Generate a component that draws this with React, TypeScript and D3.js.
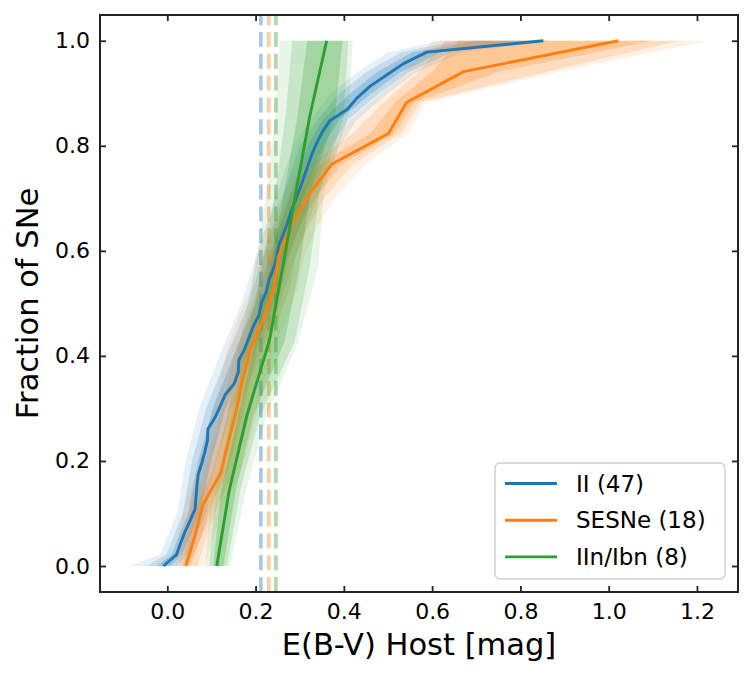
import { useEffect, useRef } from "react"
import * as d3 from "d3"

const W = 753
const H = 676

const seriesNames = ["II (47)", "SESNe (18)", "IIn/Ibn (8)"]
const seriesColors = ["#1f77b4", "#ff7f0e", "#2ca02c"]

// CDF curves: E(B-V) host value at each cumulative fraction i/(n-1)
const iiX = [
  -0.009, 0.021, 0.03, 0.04, 0.052, 0.063, 0.065, 0.067, 0.07, 0.078,
  0.085, 0.091, 0.092, 0.108, 0.12, 0.131, 0.152, 0.161, 0.162, 0.175,
  0.185, 0.195, 0.208, 0.213, 0.224, 0.23, 0.24, 0.248, 0.252, 0.262,
  0.272, 0.28, 0.29, 0.3, 0.309, 0.318, 0.327, 0.338, 0.351, 0.368,
  0.408, 0.43, 0.459, 0.497, 0.535, 0.588, 0.852,
]
const sesneX = [
  0.042, 0.063, 0.081, 0.121, 0.138, 0.156, 0.17, 0.188, 0.218, 0.242,
  0.252, 0.28, 0.32, 0.372, 0.501, 0.542, 0.671, 1.022,
]
const iinX = [0.112, 0.14, 0.18, 0.231, 0.262, 0.292, 0.323, 0.361]

// medians (dashed vertical lines)
const medians = [0.212, 0.23, 0.246]

// uncertainty bands: fraction levels and x edges (outer / middle / inner)
const iiBandF = [0, 0.022, 0.1, 0.2, 0.3, 0.4, 0.5, 0.6, 0.7, 0.8, 0.85, 0.9, 0.94, 0.978, 1.0]
const iiLo3 = [-0.084, -0.016, 0.022, 0.042, 0.072, 0.118, 0.168, 0.205, 0.245, 0.285, 0.325, 0.37, 0.43, 0.5, 0.62]
const iiLo2 = [-0.047, -0.002, 0.035, 0.056, 0.088, 0.135, 0.184, 0.22, 0.26, 0.3, 0.34, 0.39, 0.45, 0.53, 0.66]
const iiLo1 = [-0.024, 0.01, 0.047, 0.07, 0.103, 0.15, 0.199, 0.235, 0.276, 0.318, 0.352, 0.415, 0.475, 0.555, 0.7]
const iiHi1 = [0.008, 0.033, 0.074, 0.099, 0.132, 0.18, 0.227, 0.265, 0.308, 0.354, 0.39, 0.463, 0.528, 0.62, 0.856]
const iiHi2 = [0.022, 0.045, 0.088, 0.112, 0.146, 0.195, 0.24, 0.28, 0.325, 0.372, 0.41, 0.48, 0.545, 0.645, 0.862]
const iiHi3 = [0.035, 0.06, 0.1, 0.125, 0.16, 0.21, 0.255, 0.295, 0.34, 0.39, 0.43, 0.5, 0.565, 0.67, 0.87]

const sesneLo3 = [0.018, 0.025, 0.04, 0.065, 0.085, 0.105, 0.12, 0.135, 0.16, 0.19, 0.2, 0.225, 0.26, 0.3, 0.38, 0.46, 0.54, 0.6]
const sesneLo2 = [0.027, 0.038, 0.055, 0.085, 0.103, 0.122, 0.138, 0.155, 0.18, 0.205, 0.218, 0.243, 0.28, 0.325, 0.42, 0.49, 0.57, 0.63]
const sesneLo1 = [0.035, 0.05, 0.068, 0.1, 0.12, 0.138, 0.153, 0.17, 0.198, 0.222, 0.235, 0.26, 0.298, 0.345, 0.46, 0.515, 0.6, 0.66]
const sesneHi1 = [0.052, 0.078, 0.1, 0.135, 0.155, 0.172, 0.188, 0.205, 0.235, 0.26, 0.272, 0.3, 0.34, 0.395, 0.515, 0.56, 0.75, 1.1]
const sesneHi2 = [0.068, 0.09, 0.115, 0.15, 0.17, 0.188, 0.205, 0.222, 0.252, 0.278, 0.29, 0.32, 0.36, 0.42, 0.53, 0.572, 0.86, 1.16]
const sesneHi3 = [0.085, 0.105, 0.13, 0.165, 0.185, 0.205, 0.22, 0.24, 0.27, 0.295, 0.31, 0.34, 0.385, 0.45, 0.545, 0.585, 0.89, 1.225]

const iinLo3 = [0.086, 0.1, 0.135, 0.165, 0.2, 0.225, 0.245, 0.256]
const iinLo2 = [0.095, 0.11, 0.145, 0.18, 0.215, 0.245, 0.268, 0.283]
const iinLo1 = [0.104, 0.122, 0.16, 0.2, 0.235, 0.265, 0.295, 0.317]
const iinHi1 = [0.127, 0.155, 0.195, 0.266, 0.3, 0.325, 0.38, 0.397]
const iinHi2 = [0.135, 0.165, 0.21, 0.289, 0.323, 0.345, 0.4, 0.41]
const iinHi3 = [0.142, 0.178, 0.225, 0.297, 0.342, 0.355, 0.41, 0.42]

const xTicks = [0, 0.2, 0.4, 0.6, 0.8, 1.0, 1.2]
const yTicks = [0, 0.2, 0.4, 0.6, 0.8, 1.0]

const FONT = "DejaVu Sans, sans-serif"

export default function App() {
  const ref = useRef<SVGSVGElement>(null)

  useEffect(() => {
    if (!ref.current) return
    const svg = d3.select(ref.current)
    svg.selectAll("*").remove()

    const L = 100, R = 738, T = 15, B = 592
    const x = d3.scaleLinear().domain([-0.1525, 1.293]).range([L, R])
    const y = d3.scaleLinear().domain([-0.0495, 1.049]).range([B, T])

    const frac = (n: number) => d3.range(n).map((i) => i / (n - 1))

    const series = [
      { xs: iiX, bandF: iiBandF, edges: [[iiLo3, iiHi3], [iiLo2, iiHi2], [iiLo1, iiHi1]] },
      { xs: sesneX, bandF: frac(sesneX.length), edges: [[sesneLo3, sesneHi3], [sesneLo2, sesneHi2], [sesneLo1, sesneHi1]] },
      { xs: iinX, bandF: frac(iinX.length), edges: [[iinLo3, iinHi3], [iinLo2, iinHi2], [iinLo1, iinHi1]] },
    ]

    const bands = svg.append("g")
    const lines = svg.append("g")
    // stacked: outer alone, outer+middle, all three
    const bandAlpha = [0.11, 0.17, 0.23]

    series.forEach((s, si) => {
      const col = seriesColors[si]
      s.edges.forEach(([lo, hi], k) => {
        const area = d3
          .area<number>()
          .y((_, i) => y(s.bandF[i]))
          .x0((_, i) => x(lo[i]))
          .x1((_, i) => x(hi[i]))
        bands
          .append("path")
          .attr("d", area(s.bandF))
          .attr("fill", col)
          .attr("fill-opacity", bandAlpha[k])
          .attr("stroke", "none")
      })

      const fr = frac(s.xs.length)
      const line = d3
        .line<number>()
        .x((d) => x(d))
        .y((_, i) => y(fr[i]))
      lines
        .append("path")
        .attr("d", line(s.xs))
        .attr("fill", "none")
        .attr("stroke", col)
        .attr("stroke-width", 2.9)
        .attr("stroke-linejoin", "round")

      // dashed median; drawn bottom->top so the dash pattern starts at the axis
      bands
        .append("line")
        .attr("x1", x(medians[si]))
        .attr("x2", x(medians[si]))
        .attr("y1", B)
        .attr("y2", T)
        .attr("stroke", col)
        .attr("stroke-opacity", 0.4)
        .attr("stroke-width", 3.6)
        .attr("stroke-dasharray", "15 6.8")
    })

    // axes: inward ticks on all four sides
    const axisColor = "#222"
    const styleAxis = (g: d3.Selection<SVGGElement, unknown, null, undefined>) => {
      g.select(".domain").remove()
      g.selectAll(".tick line").attr("stroke", axisColor).attr("stroke-width", 1.8)
      g.selectAll(".tick text").attr("fill", "#000").attr("font-size", 22).attr("font-family", FONT)
    }

    svg
      .append("g")
      .attr("transform", `translate(0,${B})`)
      .call(d3.axisBottom(x).tickValues(xTicks).tickFormat(d3.format(".1f")).tickSizeInner(-6).tickSizeOuter(0).tickPadding(11))
      .call(styleAxis)
    svg
      .append("g")
      .attr("transform", `translate(0,${T})`)
      .call(d3.axisTop(x).tickValues(xTicks).tickFormat(() => "").tickSizeInner(-6).tickSizeOuter(0))
      .call(styleAxis)
    svg
      .append("g")
      .attr("transform", `translate(${L},0)`)
      .call(d3.axisLeft(y).tickValues(yTicks).tickFormat(d3.format(".1f")).tickSizeInner(-6).tickSizeOuter(0).tickPadding(10))
      .call(styleAxis)
    svg
      .append("g")
      .attr("transform", `translate(${R},0)`)
      .call(d3.axisRight(y).tickValues(yTicks).tickFormat(() => "").tickSizeInner(-6).tickSizeOuter(0))
      .call(styleAxis)

    svg
      .append("rect")
      .attr("x", L)
      .attr("y", T)
      .attr("width", R - L)
      .attr("height", B - T)
      .attr("fill", "none")
      .attr("stroke", axisColor)
      .attr("stroke-width", 2)

    // axis labels
    svg
      .append("text")
      .attr("x", (L + R) / 2)
      .attr("y", 655)
      .attr("text-anchor", "middle")
      .attr("font-size", 30.5)
      .attr("font-family", FONT)
      .text("E(B-V) Host [mag]")
    svg
      .append("text")
      .attr("transform", `translate(38,${(T + B) / 2}) rotate(-90)`)
      .attr("text-anchor", "middle")
      .attr("font-size", 30.5)
      .attr("font-family", FONT)
      .text("Fraction of SNe")

    // legend
    const lg = svg.append("g")
    lg.append("rect")
      .attr("x", 495)
      .attr("y", 463)
      .attr("width", 230)
      .attr("height", 116)
      .attr("rx", 5)
      .attr("fill", "white")
      .attr("fill-opacity", 0.8)
      .attr("stroke", "#cfcfcf")
      .attr("stroke-width", 1.4)
    seriesNames.forEach((name, i) => {
      const cy = 483.5 + i * 36.7
      lg.append("line")
        .attr("x1", 505)
        .attr("x2", 557)
        .attr("y1", cy)
        .attr("y2", cy)
        .attr("stroke", seriesColors[i])
        .attr("stroke-width", 2.9)
      lg.append("text")
        .attr("x", 576)
        .attr("y", cy)
        .attr("dy", "0.36em")
        .attr("font-size", 23)
        .attr("font-family", FONT)
        .text(name)
    })
  }, [])

  return (
    <svg
      ref={ref}
      width={W}
      height={H}
      style={{ position: "absolute", left: 0, top: 0, background: "white" }}
    />
  )
}
